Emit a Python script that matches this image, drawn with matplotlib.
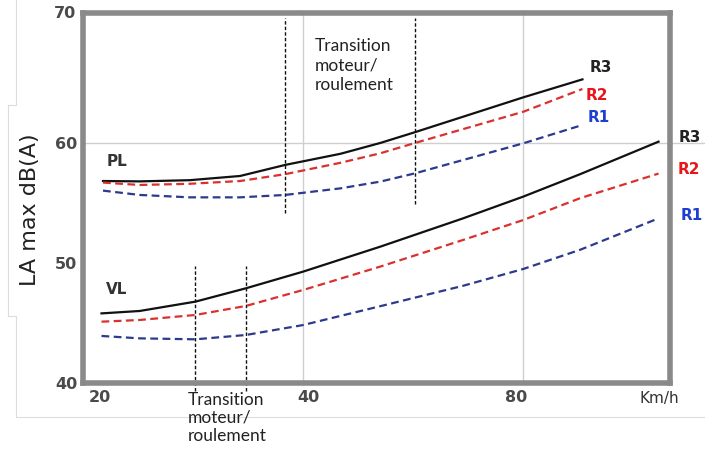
import matplotlib
matplotlib.use("Agg")
import matplotlib.pyplot as plt
from matplotlib.lines import Line2D
from matplotlib.transforms import offset_copy, blended_transform_factory

# values (speed in km/h, level in dB(A))
speeds_pl = [21.3, 23.9, 28.0, 32.8, 37.8, 45.0, 51.0, 56.9, 80.0, 96.4]
pl_r3 = [56.83, 56.8, 56.9, 57.25, 58.17, 59.1, 60.0, 60.9, 63.8, 65.3]
pl_r2 = [56.7, 56.5, 56.6, 56.83, 57.4, 58.35, 59.14, 60.0, 62.6, 64.5]
pl_r1 = [56.03, 55.67, 55.47, 55.47, 55.67, 56.22, 56.78, 57.47, 59.97, 61.5]

speeds_vl = [21.2, 23.9, 28.5, 33.4, 40.0, 51.0, 66.2, 80.0, 95.7, 122.5]
vl_r3 = [45.8, 46.0, 46.78, 47.89, 49.28, 51.36, 53.72, 55.53, 57.4, 60.11]
vl_r2 = [45.11, 45.25, 45.67, 46.42, 47.75, 49.7, 51.92, 53.58, 55.4, 57.45]
vl_r1 = [43.92, 43.72, 43.64, 44.0, 44.83, 46.4, 48.1, 49.5, 51.1, 53.72]

pl_transition = [37.8, 56.9]
pl_transition_span = [(54.2, 70.4), (54.9, 70.4)]
vl_transition = [28.5, 33.4]
vl_transition_span = (39.3, 49.75)

x_ticks = [20, 40, 80]
y_ticks = [40, 50, 60, 70]
x_grid = [40, 80]
y_grid = [60]

BLACK = "#111111"
RED = "#d9322e"
BLUE = "#2c3a8c"
RED_TXT = "#e8161c"
BLUE_TXT = "#1d3fcf"
GRAY = "#8a8a8a"
TICK = "#4a4a4a"

fig = plt.figure(figsize=(7.05, 4.54), dpi=100)
ax = fig.add_axes([83 / 705, 71 / 454, 587 / 705, 370 / 454])
ax.set_xscale("log")
ax.set_xlim(20, 127)
ax.set_ylim(40, 70.83)

for g in x_grid:
    ax.axvline(g, color="#cfcfcf", lw=1.0, zorder=0)
for g in y_grid:
    ax.axhline(g, xmin=0, xmax=1.06, color="#cfcfcf", lw=1.0, zorder=0, clip_on=False)

dash = (0, (3.5, 2.0))
for sp, r3, r2, r1 in [(speeds_pl, pl_r3, pl_r2, pl_r1), (speeds_vl, vl_r3, vl_r2, vl_r1)]:
    ax.plot(sp, r3, color=BLACK, lw=1.6, zorder=3)
    ax.plot(sp, r2, color=RED, lw=1.6, ls=dash, zorder=3)
    ax.plot(sp, r1, color=BLUE, lw=1.6, ls=dash, zorder=3)

vdash = (0, (2.5, 1.5))
for xv, (y0, y1) in zip(pl_transition, pl_transition_span):
    ax.plot([xv, xv], [y0, y1], color=BLACK, lw=1.0, ls=vdash, zorder=2)
for xv in vl_transition:
    ax.plot([xv, xv], list(vl_transition_span), color=BLACK, lw=1.0, ls=vdash,
            zorder=2, clip_on=False)

for side in ax.spines.values():
    side.set_color(GRAY)
    side.set_linewidth(4)

# ticks
ax.set_xticks(x_ticks)
ax.set_xticklabels([])
ax.minorticks_off()
ax.set_yticks(y_ticks[:-1])
ax.tick_params(length=0, labelsize=11.5, labelcolor=TICK, pad=4)
for lab in ax.get_yticklabels():
    lab.set_fontweight("bold")
ax.text(-0.012, 1.0, str(y_ticks[-1]), transform=ax.transAxes, ha="right", va="center",
        fontsize=11.5, color=TICK, fontweight="bold")

bt = blended_transform_factory(ax.transData, ax.transAxes)
x_label_shift = [17, 5, -7]  # the scan prints the labels a little off the grid lines
for xv, dx in zip(x_ticks, x_label_shift):
    tr = offset_copy(bt, fig=fig, x=dx, y=-14, units="dots")
    ax.text(xv, 0, str(xv), transform=tr, ha="center", va="center",
            fontsize=11.5, color=TICK, fontweight="bold")
ax.text(659 / 705, 55 / 454, "Km/h", transform=fig.transFigure, ha="center", va="center",
        fontsize=11, color="#333333")

fig.text(30 / 705, 1 - 210 / 454, "LA max dB(A)", rotation=90, ha="center", va="center",
         fontsize=16, color="#222222")

# curve labels
def ftext(x, y, s, **kw):
    fig.text(x / 705, 1 - y / 454, s, ha="center", va="center", **kw)

ftext(117, 161, "PL", fontsize=11, color="#333333", fontweight="bold")
ftext(117, 290, "VL", fontsize=11, color="#333333", fontweight="bold")
ftext(601, 68, "R3", fontsize=11, color="#222222", fontweight="bold")
ftext(597, 96, "R2", fontsize=11, color=RED_TXT, fontweight="bold")
ftext(599, 118, "R1", fontsize=11, color=BLUE_TXT, fontweight="bold")
ftext(690, 137, "R3", fontsize=11, color="#222222", fontweight="bold")
ftext(689, 170, "R2", fontsize=11, color=RED_TXT, fontweight="bold")
ftext(692, 216, "R1", fontsize=11, color=BLUE_TXT, fontweight="bold")

note = "Transition\nmoteur/\nroulement"
fig.text(315 / 705, 1 - 38 / 454, note, ha="left", va="top", fontsize=12.5,
         family="Lato", color="#222222", linespacing=1.25)
fig.text(188 / 705, 1 - 392 / 454, note, ha="left", va="top", fontsize=12.5,
         family="Lato", color="#222222", linespacing=1.15)

# faint border of the scanned figure
for xs, ys in [([16, 16], [0, 105]), ([16, 8], [105, 105]), ([8, 8], [105, 316]),
               ([8, 16], [316, 316]), ([16, 16], [316, 417]), ([16, 705], [417, 417])]:
    fig.add_artist(Line2D([v / 705 for v in xs], [1 - v / 454 for v in ys],
                          color="#dddddd", lw=0.8))

fig.savefig("out.png", dpi=100)
